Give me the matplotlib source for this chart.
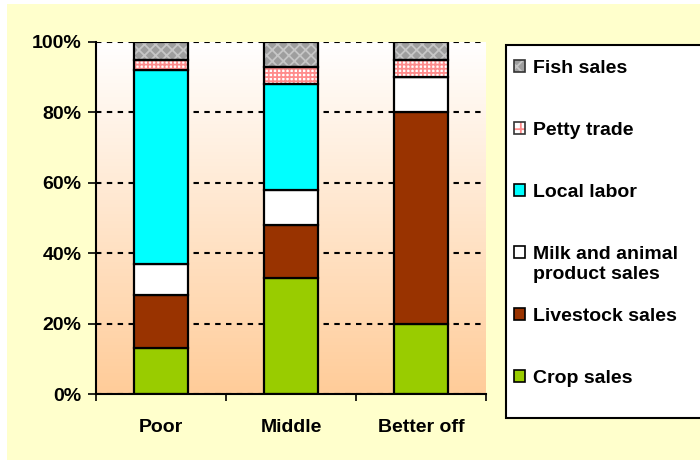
import numpy as np
import matplotlib
matplotlib.use("Agg")
import matplotlib.pyplot as plt
from matplotlib.patches import Rectangle, Patch

categories = ["Poor", "Middle", "Better off"]
crop_sales = [13, 33, 20]
livestock_sales = [15, 15, 60]
milk_sales = [9, 10, 10]
local_labor = [55, 30, 0]
petty_trade = [3, 5, 5]
fish_sales = [5, 7, 5]
yticks = [0, 20, 40, 60, 80, 100]
ytick_labels = ["0%", "20%", "40%", "60%", "80%", "100%"]

plt.rcParams['font.family'] = ['Liberation Sans', 'DejaVu Sans']
plt.rcParams['font.weight'] = 'bold'
plt.rcParams['hatch.linewidth'] = 1.3

W, H = 700, 461
FS = 14
fig = plt.figure(figsize=(7, 4.61), dpi=100, facecolor='white')
fig.patches.append(Rectangle((7 / W, 1 / H), 1.0, 1 - 5 / H, transform=fig.transFigure,
                             facecolor='#FFFFCC', edgecolor='none', zorder=-10))
# legend frame
fig.patches.append(Rectangle((506 / W, 1 - 418 / H), 210 / W, 373 / H, transform=fig.transFigure,
                             facecolor='white', edgecolor='black', linewidth=1.5, zorder=-5))

ax = fig.add_axes([96 / W, 67 / H, 390 / W, 352 / H])
ax.set_zorder(2)
ax.set_facecolor('none')
# gradient background
grad = np.linspace(0, 1, 256).reshape(-1, 1)
top = np.array([1.0, 1.0, 1.0])
bot = np.array([1.0, 0.80, 0.60])
img = top * (1 - grad)[..., None] + bot * grad[..., None]
img = img.reshape(256, 1, 3)
ax.imshow(img, extent=[0, 1, 0, 1], transform=ax.transAxes, aspect='auto', zorder=0)

x = np.arange(len(categories))
bw = 0.41
lw = 1.6

series = [
    ("Crop sales", crop_sales, dict(facecolor='#99CC00')),
    ("Livestock sales", livestock_sales, dict(facecolor='#993300')),
    ("Milk and animal", milk_sales, dict(facecolor='white')),
    ("Local labor", local_labor, dict(facecolor='#00FFFF')),
    ("Petty trade", petty_trade, dict(facecolor='white', hatch='++++', hatchcol='#FF8C8C')),
    ("Fish sales", fish_sales, dict(facecolor='#9E9E9E', hatch='xxx', hatchcol='#C6C6C6')),
]
milk_second_line = "product sales"

bottom = np.zeros(len(categories))
handles = []
for label, vals, st in series:
    vals = np.array(vals, dtype=float)
    if 'hatch' in st:
        ax.bar(x, vals, bw, bottom=bottom, color=st['facecolor'], hatch=st['hatch'],
               edgecolor=st['hatchcol'], linewidth=0, zorder=3)
        ax.bar(x, vals, bw, bottom=bottom, fill=False, edgecolor='black', linewidth=lw, zorder=4)
        h = (Patch(facecolor=st['facecolor'], hatch=st['hatch'][:2], edgecolor=st['hatchcol'], linewidth=0),
             Patch(fill=False, edgecolor='#333333', linewidth=1.2))
    else:
        ax.bar(x, vals, bw, bottom=bottom, color=st['facecolor'], edgecolor='black',
               linewidth=lw, zorder=3)
        h = Patch(facecolor=st['facecolor'], edgecolor='black', linewidth=1.2)
    handles.append((h, label))
    bottom += vals

ax.set_xlim(-0.5, len(categories) - 0.5)
ax.set_ylim(0, 100)
ax.set_yticks(yticks)
ax.set_yticklabels(ytick_labels)
ax.yaxis.grid(True, color='black', linestyle=(0, (2.6, 2.6)), linewidth=1.5, zorder=1)
ax.set_axisbelow(True)
ax.set_xticks(x)
ax.set_xticklabels(categories)
ax.set_xticks(np.arange(len(categories) + 1) - 0.5, minor=True)
ax.tick_params(axis='x', which='major', length=0, pad=18, labelsize=FS)
ax.tick_params(axis='x', which='minor', length=5, width=1.2, direction='out')
ax.tick_params(axis='y', length=6, width=1.2, direction='out', pad=4.5, labelsize=FS)
for s in ['top', 'right']:
    ax.spines[s].set_visible(False)
for s in ['left', 'bottom']:
    ax.spines[s].set_linewidth(1.5)
    ax.spines[s].set_zorder(5)

hs = [h for h, l in handles][::-1]
ls = [l for h, l in handles][::-1]
leg = fig.legend(hs, ls, loc='upper left', bbox_to_anchor=(514 / W, 1 - 60 / H),
                 frameon=False, fontsize=FS, handlelength=0.55, handleheight=0.55,
                 handletextpad=0.45, labelspacing=2.31, borderpad=0, borderaxespad=0)
leg.set_zorder(3)

# second line of the "Milk and animal product sales" entry
fig.canvas.draw()
for t in leg.get_texts():
    if t.get_text() == "Milk and animal":
        bb = t.get_window_extent()
        fig.text(bb.x0 / W, (bb.y0 - 20) / H, milk_second_line, fontsize=FS,
                 fontweight='bold', ha='left', va='bottom', zorder=4)

fig.savefig('out.png', dpi=100, facecolor=fig.get_facecolor())
